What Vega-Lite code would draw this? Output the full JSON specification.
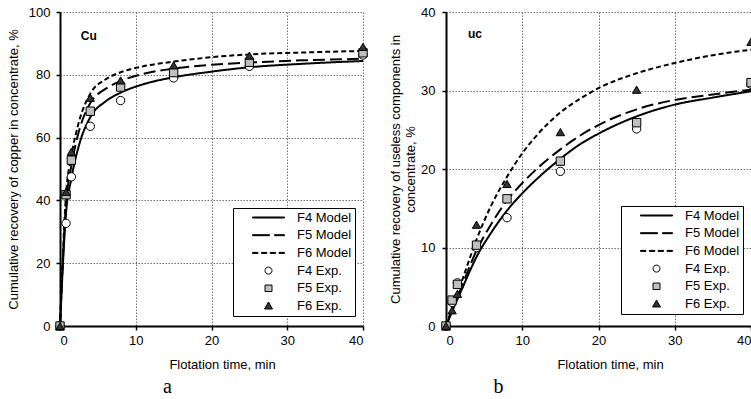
{
  "$schema": "https://vega.github.io/schema/vega-lite/v6.json",
  "padding": {"left": 7, "top": 6, "right": 0, "bottom": 0},
  "spacing": 19,
  "config": {
    "view": {"stroke": null},
    "font": "Liberation Sans",
    "axis": {
      "domainColor": "black", "domainWidth": 2,
      "tickColor": "black", "tickSize": 4, "tickWidth": 1.5,
      "labelFont": "Liberation Sans", "labelFontSize": 13, "labelColor": "black",
      "titleFont": "Liberation Sans", "titleFontSize": 13, "titleFontWeight": "normal", "titleColor": "black",
      "gridColor": "#707070", "gridDash": [1.5, 1.5], "gridWidth": 1
    },
    "legend": {
      "title": null, "orient": "none",
      "symbolSize": 100, "symbolStrokeWidth": 1, "symbolOffset": 10, "labelOffset": 38,
      "padding": 3, "rowPadding": 3.7,
      "strokeColor": "black", "fillColor": "white",
      "labelFont": "Liberation Sans", "labelFontSize": 13, "labelColor": "black"
    }
  },
  "resolve": {"scale": {"color": "independent"}, "legend": {"color": "independent"}},
  "datasets": {
    "cu": [
      {"k": "m", "s": "F4 Model", "t": 0, "r": 0}, {"k": "m", "s": "F4 Model", "t": 0.8, "r": 36}, {"k": "m", "s": "F4 Model", "t": 1.5, "r": 47}, {"k": "m", "s": "F4 Model", "t": 2.5, "r": 57.5}, {"k": "m", "s": "F4 Model", "t": 4, "r": 66.5}, {"k": "m", "s": "F4 Model", "t": 6, "r": 71.5}, {"k": "m", "s": "F4 Model", "t": 8, "r": 74.3}, {"k": "m", "s": "F4 Model", "t": 11, "r": 77}, {"k": "m", "s": "F4 Model", "t": 15, "r": 79.2}, {"k": "m", "s": "F4 Model", "t": 20, "r": 81}, {"k": "m", "s": "F4 Model", "t": 25, "r": 82.4}, {"k": "m", "s": "F4 Model", "t": 32, "r": 83.5}, {"k": "m", "s": "F4 Model", "t": 40, "r": 84.4},
      {"k": "m", "s": "F5 Model", "t": 0, "r": 0}, {"k": "m", "s": "F5 Model", "t": 0.8, "r": 39}, {"k": "m", "s": "F5 Model", "t": 1.5, "r": 51}, {"k": "m", "s": "F5 Model", "t": 2.5, "r": 62}, {"k": "m", "s": "F5 Model", "t": 4, "r": 71}, {"k": "m", "s": "F5 Model", "t": 6, "r": 75.5}, {"k": "m", "s": "F5 Model", "t": 8, "r": 78}, {"k": "m", "s": "F5 Model", "t": 11, "r": 80.3}, {"k": "m", "s": "F5 Model", "t": 15, "r": 82}, {"k": "m", "s": "F5 Model", "t": 20, "r": 83.2}, {"k": "m", "s": "F5 Model", "t": 25, "r": 83.9}, {"k": "m", "s": "F5 Model", "t": 32, "r": 84.6}, {"k": "m", "s": "F5 Model", "t": 40, "r": 85.1},
      {"k": "m", "s": "F6 Model", "t": 0, "r": 0}, {"k": "m", "s": "F6 Model", "t": 0.8, "r": 42}, {"k": "m", "s": "F6 Model", "t": 1.5, "r": 54}, {"k": "m", "s": "F6 Model", "t": 2.5, "r": 65}, {"k": "m", "s": "F6 Model", "t": 4, "r": 74}, {"k": "m", "s": "F6 Model", "t": 6, "r": 78.5}, {"k": "m", "s": "F6 Model", "t": 8, "r": 80.8}, {"k": "m", "s": "F6 Model", "t": 11, "r": 82.7}, {"k": "m", "s": "F6 Model", "t": 15, "r": 84.2}, {"k": "m", "s": "F6 Model", "t": 20, "r": 85.6}, {"k": "m", "s": "F6 Model", "t": 25, "r": 86.5}, {"k": "m", "s": "F6 Model", "t": 32, "r": 87.1}, {"k": "m", "s": "F6 Model", "t": 40, "r": 87.6},
      {"k": "e", "s": "F4 Exp.", "t": 0, "r": 0}, {"k": "e", "s": "F4 Exp.", "t": 0.8, "r": 32.7}, {"k": "e", "s": "F4 Exp.", "t": 1.5, "r": 47.5}, {"k": "e", "s": "F4 Exp.", "t": 4, "r": 63.6}, {"k": "e", "s": "F4 Exp.", "t": 8, "r": 71.8}, {"k": "e", "s": "F4 Exp.", "t": 15, "r": 79.0}, {"k": "e", "s": "F4 Exp.", "t": 25, "r": 82.7}, {"k": "e", "s": "F4 Exp.", "t": 40, "r": 86.3},
      {"k": "e", "s": "F5 Exp.", "t": 0, "r": 0}, {"k": "e", "s": "F5 Exp.", "t": 0.8, "r": 41.8}, {"k": "e", "s": "F5 Exp.", "t": 1.5, "r": 52.8}, {"k": "e", "s": "F5 Exp.", "t": 4, "r": 68.4}, {"k": "e", "s": "F5 Exp.", "t": 8, "r": 76.1}, {"k": "e", "s": "F5 Exp.", "t": 15, "r": 80.7}, {"k": "e", "s": "F5 Exp.", "t": 25, "r": 84.0}, {"k": "e", "s": "F5 Exp.", "t": 40, "r": 87.0},
      {"k": "e", "s": "F6 Exp.", "t": 0, "r": 0}, {"k": "e", "s": "F6 Exp.", "t": 0.8, "r": 42.7}, {"k": "e", "s": "F6 Exp.", "t": 1.5, "r": 55.5}, {"k": "e", "s": "F6 Exp.", "t": 4, "r": 72.7}, {"k": "e", "s": "F6 Exp.", "t": 8, "r": 78.2}, {"k": "e", "s": "F6 Exp.", "t": 15, "r": 83.0}, {"k": "e", "s": "F6 Exp.", "t": 25, "r": 86.1}, {"k": "e", "s": "F6 Exp.", "t": 40, "r": 88.9},
      {"k": "l", "s": "Cu", "t": 3.8, "r": 92.3}
    ],
    "uc": [
      {"k": "m", "s": "F4 Model", "t": 0, "r": 0}, {"k": "m", "s": "F4 Model", "t": 1, "r": 2.3}, {"k": "m", "s": "F4 Model", "t": 2, "r": 4.5}, {"k": "m", "s": "F4 Model", "t": 4, "r": 8.8}, {"k": "m", "s": "F4 Model", "t": 6, "r": 12}, {"k": "m", "s": "F4 Model", "t": 8, "r": 14.7}, {"k": "m", "s": "F4 Model", "t": 10, "r": 16.9}, {"k": "m", "s": "F4 Model", "t": 12, "r": 18.8}, {"k": "m", "s": "F4 Model", "t": 15, "r": 21.3}, {"k": "m", "s": "F4 Model", "t": 17.5, "r": 23.1}, {"k": "m", "s": "F4 Model", "t": 20, "r": 24.5}, {"k": "m", "s": "F4 Model", "t": 25, "r": 26.7}, {"k": "m", "s": "F4 Model", "t": 30, "r": 28.2}, {"k": "m", "s": "F4 Model", "t": 35, "r": 29.1}, {"k": "m", "s": "F4 Model", "t": 40, "r": 29.9},
      {"k": "m", "s": "F5 Model", "t": 0, "r": 0}, {"k": "m", "s": "F5 Model", "t": 1, "r": 2.5}, {"k": "m", "s": "F5 Model", "t": 2, "r": 4.9}, {"k": "m", "s": "F5 Model", "t": 4, "r": 9.6}, {"k": "m", "s": "F5 Model", "t": 6, "r": 13.1}, {"k": "m", "s": "F5 Model", "t": 8, "r": 16}, {"k": "m", "s": "F5 Model", "t": 10, "r": 18.2}, {"k": "m", "s": "F5 Model", "t": 12, "r": 20.1}, {"k": "m", "s": "F5 Model", "t": 15, "r": 22.5}, {"k": "m", "s": "F5 Model", "t": 17.5, "r": 24.2}, {"k": "m", "s": "F5 Model", "t": 20, "r": 25.6}, {"k": "m", "s": "F5 Model", "t": 25, "r": 27.6}, {"k": "m", "s": "F5 Model", "t": 30, "r": 28.8}, {"k": "m", "s": "F5 Model", "t": 35, "r": 29.5}, {"k": "m", "s": "F5 Model", "t": 40, "r": 30.1},
      {"k": "m", "s": "F6 Model", "t": 0, "r": 0}, {"k": "m", "s": "F6 Model", "t": 1, "r": 2.8}, {"k": "m", "s": "F6 Model", "t": 2, "r": 5.5}, {"k": "m", "s": "F6 Model", "t": 4, "r": 11}, {"k": "m", "s": "F6 Model", "t": 6, "r": 15.5}, {"k": "m", "s": "F6 Model", "t": 8, "r": 19.0}, {"k": "m", "s": "F6 Model", "t": 10, "r": 22.0}, {"k": "m", "s": "F6 Model", "t": 12, "r": 24.4}, {"k": "m", "s": "F6 Model", "t": 15, "r": 27.2}, {"k": "m", "s": "F6 Model", "t": 17.5, "r": 28.9}, {"k": "m", "s": "F6 Model", "t": 20, "r": 30.3}, {"k": "m", "s": "F6 Model", "t": 25, "r": 32.2}, {"k": "m", "s": "F6 Model", "t": 30, "r": 33.5}, {"k": "m", "s": "F6 Model", "t": 35, "r": 34.5}, {"k": "m", "s": "F6 Model", "t": 40, "r": 35.2},
      {"k": "e", "s": "F4 Exp.", "t": 0, "r": 0}, {"k": "e", "s": "F4 Exp.", "t": 0.8, "r": 3.0}, {"k": "e", "s": "F4 Exp.", "t": 1.5, "r": 5.5}, {"k": "e", "s": "F4 Exp.", "t": 4, "r": 10.0}, {"k": "e", "s": "F4 Exp.", "t": 8, "r": 13.8}, {"k": "e", "s": "F4 Exp.", "t": 15, "r": 19.7}, {"k": "e", "s": "F4 Exp.", "t": 25, "r": 25.1}, {"k": "e", "s": "F4 Exp.", "t": 40, "r": 30.8},
      {"k": "e", "s": "F5 Exp.", "t": 0, "r": 0}, {"k": "e", "s": "F5 Exp.", "t": 0.8, "r": 3.3}, {"k": "e", "s": "F5 Exp.", "t": 1.5, "r": 5.3}, {"k": "e", "s": "F5 Exp.", "t": 4, "r": 10.3}, {"k": "e", "s": "F5 Exp.", "t": 8, "r": 16.2}, {"k": "e", "s": "F5 Exp.", "t": 15, "r": 21.0}, {"k": "e", "s": "F5 Exp.", "t": 25, "r": 25.9}, {"k": "e", "s": "F5 Exp.", "t": 40, "r": 31.0},
      {"k": "e", "s": "F6 Exp.", "t": 0, "r": 0}, {"k": "e", "s": "F6 Exp.", "t": 0.8, "r": 2.0}, {"k": "e", "s": "F6 Exp.", "t": 1.5, "r": 4.1}, {"k": "e", "s": "F6 Exp.", "t": 4, "r": 12.9}, {"k": "e", "s": "F6 Exp.", "t": 8, "r": 18.1}, {"k": "e", "s": "F6 Exp.", "t": 15, "r": 24.7}, {"k": "e", "s": "F6 Exp.", "t": 25, "r": 30.1}, {"k": "e", "s": "F6 Exp.", "t": 40, "r": 36.2},
      {"k": "l", "s": "uc", "t": 3.8, "r": 37.2}
    ]
  },
  "hconcat": [
    {
      "width": 303, "height": 314,
      "title": {"text": "a", "orient": "bottom", "frame": "group", "anchor": "middle", "dx": -44, "offset": 6, "font": "Liberation Serif", "fontSize": 20, "fontWeight": "normal", "color": "black"},
      "data": {"name": "cu"},
      "encoding": {
        "x": {"field": "t", "type": "quantitative", "scale": {"domain": [0, 40], "nice": false},
              "axis": {"values": [0, 10, 20, 30, 40], "title": "Flotation time, min", "labelPadding": 4, "titlePadding": 11, "titleX": 162}},
        "y": {"field": "r", "type": "quantitative", "scale": {"domain": [0, 100], "nice": false},
              "axis": {"values": [0, 20, 40, 60, 80, 100], "title": "Cumulative recovery of copper in concentrate, %", "labelPadding": 6, "titlePadding": 8}}
      },
      "layer": [
        {
          "transform": [{"filter": "datum.k == 'm'"}],
          "mark": {"type": "line", "interpolate": "monotone", "strokeWidth": 2},
          "encoding": {
            "color": {"field": "s", "type": "nominal",
              "scale": {"domain": ["F4 Model", "F5 Model", "F6 Model", "F4 Exp.", "F5 Exp.", "F6 Exp."], "range": ["black", "black", "black", "black", "black", "black"]},
              "legend": {
                "legendX": 173, "legendY": 196,
                "labelExpr": "datum.label + '    '",
                "symbolType": {"expr": "datum.value === 'F4 Model' ? 'M0,-0.1H6.4V0.1H0Z' : datum.value === 'F5 Model' ? 'M0,-0.1H3.4V0.1H0ZM4.4,-0.1H6.4V0.1H4.4Z' : datum.value === 'F6 Model' ? 'M0,-0.1H1.1V0.1H0ZM1.77,-0.1H2.87V0.1H1.77ZM3.53,-0.1H4.63V0.1H3.53ZM5.3,-0.1H6.4V0.1H5.3Z' : datum.value === 'F4 Exp.' ? 'M3.9,0A0.7,0.7,0,1,1,2.5,0A0.7,0.7,0,1,1,3.9,0Z' : datum.value === 'F5 Exp.' ? 'M2.5,-0.65H3.9V0.65H2.5Z' : 'M3.2,-0.8L4,0.6H2.4Z'"},
                "symbolFillColor": {"expr": "datum.value === 'F4 Exp.' ? 'white' : datum.value === 'F5 Exp.' ? '#bfbfbf' : datum.value === 'F6 Exp.' ? '#333333' : 'black'"}
              }},
            "strokeDash": {"field": "s", "type": "nominal",
              "scale": {"domain": ["F4 Model", "F5 Model", "F6 Model"], "range": [[1, 0], [12, 5], [5, 3]]}, "legend": null}
          }
        },
        {
          "transform": [{"filter": "datum.k == 'e'"}],
          "mark": {"type": "point", "filled": true, "stroke": "black", "strokeWidth": 1, "size": 70, "opacity": 1},
          "encoding": {
            "shape": {"field": "s", "type": "nominal", "scale": {"domain": ["F4 Exp.", "F5 Exp.", "F6 Exp."], "range": ["circle", "square", "triangle-up"]}, "legend": null},
            "fill": {"field": "s", "type": "nominal", "scale": {"domain": ["F4 Exp.", "F5 Exp.", "F6 Exp."], "range": ["white", "#bfbfbf", "#333333"]}, "legend": null}
          }
        },
        {
          "transform": [{"filter": "datum.k == 'l'"}],
          "mark": {"type": "text", "font": "Liberation Sans", "fontSize": 12, "fontWeight": "bold", "color": "black"},
          "encoding": {"text": {"field": "s"}}
        }
      ]
    },
    {
      "width": 305, "height": 314,
      "title": {"text": "b", "orient": "bottom", "frame": "group", "anchor": "middle", "dx": -100, "offset": 6, "font": "Liberation Serif", "fontSize": 20, "fontWeight": "normal", "color": "black"},
      "data": {"name": "uc"},
      "encoding": {
        "x": {"field": "t", "type": "quantitative", "scale": {"domain": [0, 40], "nice": false},
              "axis": {"values": [0, 10, 20, 30, 40], "title": "Flotation time, min", "labelPadding": 4, "titlePadding": 11, "titleX": 164}},
        "y": {"field": "r", "type": "quantitative", "scale": {"domain": [0, 40], "nice": false},
              "axis": {"values": [0, 10, 20, 30, 40], "title": ["Cumulative recovery of useless components in", "concentrate, %"], "titleLineHeight": 15, "labelPadding": 7, "titlePadding": 3}}
      },
      "layer": [
        {
          "transform": [{"filter": "datum.k == 'm'"}],
          "mark": {"type": "line", "interpolate": "monotone", "strokeWidth": 2},
          "encoding": {
            "color": {"field": "s", "type": "nominal",
              "scale": {"domain": ["F4 Model", "F5 Model", "F6 Model", "F4 Exp.", "F5 Exp.", "F6 Exp."], "range": ["black", "black", "black", "black", "black", "black"]},
              "legend": {
                "legendX": 175, "legendY": 194,
                "labelExpr": "datum.label + '    '",
                "symbolType": {"expr": "datum.value === 'F4 Model' ? 'M0,-0.1H6.4V0.1H0Z' : datum.value === 'F5 Model' ? 'M0,-0.1H3.4V0.1H0ZM4.4,-0.1H6.4V0.1H4.4Z' : datum.value === 'F6 Model' ? 'M0,-0.1H1.1V0.1H0ZM1.77,-0.1H2.87V0.1H1.77ZM3.53,-0.1H4.63V0.1H3.53ZM5.3,-0.1H6.4V0.1H5.3Z' : datum.value === 'F4 Exp.' ? 'M3.9,0A0.7,0.7,0,1,1,2.5,0A0.7,0.7,0,1,1,3.9,0Z' : datum.value === 'F5 Exp.' ? 'M2.5,-0.65H3.9V0.65H2.5Z' : 'M3.2,-0.8L4,0.6H2.4Z'"},
                "symbolFillColor": {"expr": "datum.value === 'F4 Exp.' ? 'white' : datum.value === 'F5 Exp.' ? '#bfbfbf' : datum.value === 'F6 Exp.' ? '#333333' : 'black'"}
              }},
            "strokeDash": {"field": "s", "type": "nominal",
              "scale": {"domain": ["F4 Model", "F5 Model", "F6 Model"], "range": [[1, 0], [12, 5], [5, 3]]}, "legend": null}
          }
        },
        {
          "transform": [{"filter": "datum.k == 'e'"}],
          "mark": {"type": "point", "filled": true, "stroke": "black", "strokeWidth": 1, "size": 70, "opacity": 1},
          "encoding": {
            "shape": {"field": "s", "type": "nominal", "scale": {"domain": ["F4 Exp.", "F5 Exp.", "F6 Exp."], "range": ["circle", "square", "triangle-up"]}, "legend": null},
            "fill": {"field": "s", "type": "nominal", "scale": {"domain": ["F4 Exp.", "F5 Exp.", "F6 Exp."], "range": ["white", "#bfbfbf", "#333333"]}, "legend": null}
          }
        },
        {
          "transform": [{"filter": "datum.k == 'l'"}],
          "mark": {"type": "text", "font": "Liberation Sans", "fontSize": 12, "fontWeight": "bold", "color": "black"},
          "encoding": {"text": {"field": "s"}}
        }
      ]
    }
  ]
}
